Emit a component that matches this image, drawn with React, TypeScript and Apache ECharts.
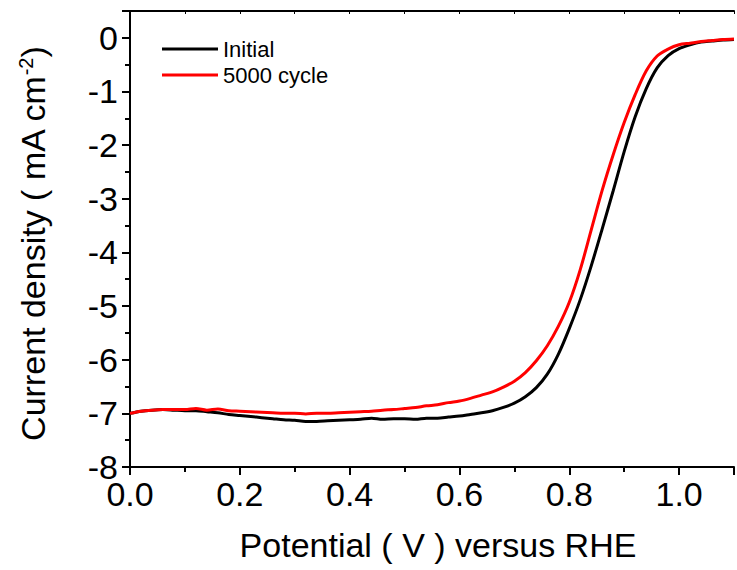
import React, { useEffect, useRef } from "react";
import * as echarts from "echarts";

const potential = [
  0.0, 0.02, 0.04, 0.06, 0.08, 0.1, 0.12, 0.14, 0.16, 0.18,
  0.2, 0.22, 0.24, 0.26, 0.28, 0.3, 0.32, 0.34, 0.36, 0.38,
  0.4, 0.42, 0.44, 0.46, 0.48, 0.5, 0.52, 0.54, 0.56, 0.58,
  0.6, 0.62, 0.64, 0.66, 0.68, 0.7, 0.72, 0.74, 0.76, 0.78,
  0.8, 0.82, 0.84, 0.86, 0.88, 0.9, 0.92, 0.94, 0.96, 0.98,
  1.0, 1.02, 1.04, 1.06, 1.08, 1.1,
];

const initialCurrent = [
  -7.0, -6.96, -6.94, -6.93, -6.94, -6.95, -6.95, -6.97, -6.99, -7.02,
  -7.04, -7.06, -7.08, -7.1, -7.12, -7.13, -7.15, -7.15, -7.14, -7.13,
  -7.12, -7.11, -7.09, -7.11, -7.1, -7.1, -7.11, -7.09, -7.09, -7.07,
  -7.05, -7.02, -6.99, -6.95, -6.89, -6.81, -6.69, -6.52, -6.27, -5.9,
  -5.42, -4.88, -4.25, -3.56, -2.85, -2.12, -1.47, -0.95, -0.56, -0.33,
  -0.2, -0.13, -0.08, -0.06, -0.04, -0.03,
];

const cycledCurrent = [
  -7.0, -6.96, -6.94, -6.93, -6.93, -6.93, -6.91, -6.94, -6.92, -6.95,
  -6.96, -6.97, -6.98, -6.99, -7.0, -7.0, -7.01, -7.0, -7.0, -6.99,
  -6.98, -6.97, -6.96, -6.94, -6.93, -6.91, -6.89, -6.86, -6.84, -6.8,
  -6.77, -6.72, -6.66, -6.6, -6.51, -6.4, -6.24, -6.02, -5.74, -5.38,
  -4.93, -4.32, -3.58, -2.84, -2.18, -1.58, -1.06, -0.62, -0.34, -0.21,
  -0.13, -0.1, -0.07, -0.05, -0.03, -0.02,
];

const seriesNames = ["Initial", "5000 cycle"];
const seriesColors = ["#000000", "#ff0000"];
const xTitle = "Potential ( V ) versus RHE";
const yTitle = "Current density ( mA cm{sup|-2})";

const FONT = "'Liberation Sans', Arial, sans-serif";

export default function App() {
  const ref = useRef<HTMLDivElement>(null);

  useEffect(() => {
    if (!ref.current) return;
    const chart = echarts.init(ref.current, undefined, { renderer: "svg" });
    const pairs = (ys: number[]) => potential.map((x, i) => [x, ys[i]]);
    const axisLine = { lineStyle: { color: "#000", width: 2 } };

    const legendGraphics: any[] = [];
    seriesNames.forEach((name, i) => {
      const cy = 49 + i * 26;
      legendGraphics.push({
        type: "line",
        shape: { x1: 162, y1: cy, x2: 218, y2: cy },
        style: { stroke: seriesColors[i], lineWidth: 3 },
      });
      legendGraphics.push({
        type: "text",
        x: 223,
        y: cy,
        style: {
          text: name,
          fontSize: 22,
          fontFamily: FONT,
          fill: "#000",
          align: "left",
          verticalAlign: "middle",
        },
      });
    });

    chart.setOption({
      animation: false,
      backgroundColor: "#fff",
      textStyle: { fontFamily: FONT },
      grid: { left: 130, right: -3, top: 11, bottom: 103, containLabel: false },
      xAxis: [
        {
          type: "value",
          position: "bottom",
          min: 0,
          max: 1.1,
          interval: 0.2,
          axisLine: { ...axisLine, onZero: false },
          axisTick: { inside: false, length: 8, lineStyle: { width: 2, color: "#000" } },
          minorTick: { show: true, splitNumber: 2, length: 5, lineStyle: { width: 2, color: "#000" } },
          splitLine: { show: false },
          axisLabel: {
            margin: 13,
            fontSize: 34,
            lineHeight: 28,
            color: "#000",
            fontFamily: FONT,
            formatter: (v: number) => (v > 1.05 ? "" : v.toFixed(1)),
          },
        },
        {
          type: "value",
          position: "top",
          min: 0,
          max: 1.1,
          interval: 0.1,
          axisLine: { ...axisLine, onZero: false },
          axisTick: { inside: true, length: 3, lineStyle: { width: 1, color: "#000" } },
          splitLine: { show: false },
          axisLabel: { show: false },
        },
      ],
      yAxis: {
        type: "value",
        min: -8,
        max: 0.5,
        interval: 1,
        axisLine: { ...axisLine, onZero: false },
        axisTick: { inside: false, length: 8, lineStyle: { width: 2, color: "#000" } },
        minorTick: { show: true, splitNumber: 2, length: 5, lineStyle: { width: 2, color: "#000" } },
        splitLine: { show: false },
        axisLabel: {
          margin: 12,
          fontSize: 34,
          lineHeight: 24,
          color: "#000",
          fontFamily: FONT,
          formatter: (v: number) => (v > 0.1 ? "" : String(v)),
        },
      },
      series: [
        {
          name: seriesNames[0],
          type: "line",
          data: pairs(initialCurrent),
          showSymbol: false,
          symbol: "none",
          smooth: 0.3,
          lineStyle: { color: seriesColors[0], width: 3 },
          itemStyle: { color: seriesColors[0] },
          z: 2,
        },
        {
          name: seriesNames[1],
          type: "line",
          data: pairs(cycledCurrent),
          showSymbol: false,
          symbol: "none",
          smooth: 0.3,
          lineStyle: { color: seriesColors[1], width: 3 },
          itemStyle: { color: seriesColors[1] },
          z: 3,
        },
      ],
      graphic: [
        ...legendGraphics,
        {
          type: "text",
          x: 438,
          y: 545,
          style: {
            text: xTitle,
            fontSize: 34,
            fontFamily: FONT,
            fill: "#000",
            align: "center",
            verticalAlign: "middle",
          },
        },
        {
          type: "text",
          x: 33,
          y: 244,
          rotation: Math.PI / 2,
          style: {
            text: yTitle,
            fontSize: 34,
            fontFamily: FONT,
            fill: "#000",
            align: "center",
            verticalAlign: "middle",
            rich: {
              sup: { fontSize: 20, fontFamily: FONT, fill: "#000", verticalAlign: "top" },
            },
          },
        },
      ],
    });
    return () => chart.dispose();
  }, []);

  return (
    <div
      ref={ref}
      style={{ position: "fixed", left: 0, top: 0, width: 737, height: 570 }}
    />
  );
}
